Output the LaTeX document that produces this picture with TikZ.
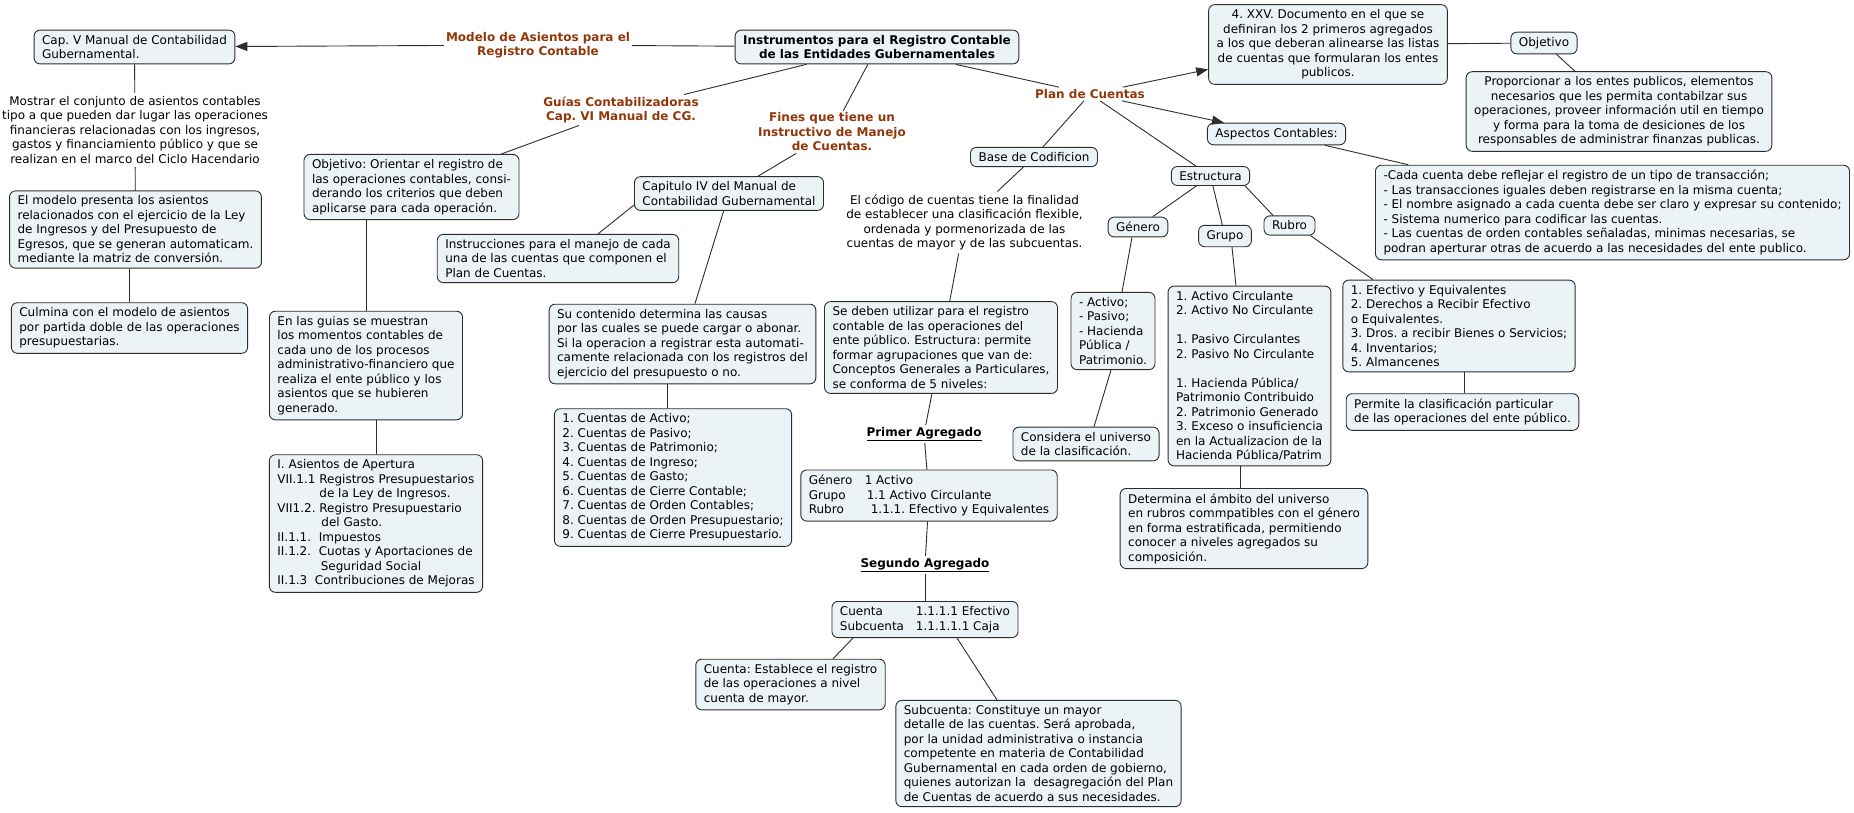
\documentclass[tikz,border=0pt]{standalone}
\usepackage{fontspec}
\setmainfont{DejaVu Sans}
\usetikzlibrary{arrows.meta}
\definecolor{boxfill}{RGB}{236,243,246}
\definecolor{linkbrown}{RGB}{145,55,10}
\definecolor{linegray}{RGB}{45,45,45}
\frenchspacing
\begin{document}
\begin{tikzpicture}[x=1pt,y=-1pt,
        every node/.style={font=\fontsize{12}{14.5}\selectfont, inner xsep=8pt, inner ysep=5pt},
        concept/.style={draw=linegray, fill=boxfill, rounded corners=6pt, align=left, line width=0.9pt},
        linkphrase/.style={text=linkbrown, font=\fontsize{12}{14.5}\selectfont\bfseries, align=center, inner sep=2pt},
        plaintext/.style={align=center, inner sep=3pt},
        conn/.style={draw=linegray, line width=0.9pt},
        arr/.style={conn, -{Triangle[length=12pt,width=9pt]}}
    ]
    \fill[white] (0,0) rectangle (1854,812);
    \useasboundingbox (0,0) rectangle (1854,812);

    % root and link phrases
    \node[concept, align=center, font=\fontsize{12}{14.5}\selectfont\bfseries] (root) at (877,47)
        {Instrumentos para el Registro Contable\\de las Entidades Gubernamentales};
    \node[linkphrase] (modelo) at (538,45) {Modelo de Asientos para el\\Registro Contable};
    \node[linkphrase] (guias) at (621,110) {Guías Contabilizadoras\\Cap. VI Manual de CG.};
    \node[linkphrase] (fines) at (832,132) {Fines que tiene un\\Instructivo de Manejo\\de Cuentas.};
    \node[linkphrase] (plan) at (1090,94) {Plan de Cuentas};

    % left branch
    \node[concept] (capv) at (134.5,47) {Cap. V Manual de Contabilidad\\Gubernamental.};
    \node[plaintext] (mostrar) at (135,130) {Mostrar el conjunto de asientos contables\\tipo a que pueden dar lugar las operaciones\\financieras relacionadas con los ingresos,\\gastos y financiamiento público y que se\\realizan en el marco del Ciclo Hacendario};
    \node[concept] (elmodelo) at (135.5,229.5) {El modelo presenta los asientos\\relacionados con el ejercicio de la Ley\\de Ingresos y del Presupuesto de\\Egresos, que se generan automaticam.\\mediante la matriz de conversión.};
    \node[concept] (culmina) at (129.5,328) {Culmina con el modelo de asientos\\por partida doble de las operaciones\\presupuestarias.};

    % guias
    \node[concept] (objetivoguia) at (411.5,187) {Objetivo: Orientar el registro de\\las operaciones contables, consi-\\derando los criterios que deben\\aplicarse para cada operación.};
    \node[concept] (enlasguias) at (366,365.5) {En las guias se muestran\\los momentos contables de\\cada uno de los procesos\\administrativo-financiero que\\realiza el ente público y los\\asientos que se hubieren\\generado.};
    \node[concept] (asientos) at (376,523.5) {I. Asientos de Apertura\\
        VII.1.1 Registros Presupuestarios\\
        \phantom{VII.1.1 }de la Ley de Ingresos.\\
        VII1.2. Registro Presupuestario\\
        \phantom{VII1.2. }\,del Gasto.\\
        II.1.1.\ \ Impuestos\\
        II.1.2.\ \ Cuotas y Aportaciones de\\
        \phantom{II.1.2.\ \ }\,Seguridad Social\\
        II.1.3\ \ Contribuciones de Mejoras};

    % instructivo
    \node[concept] (capitulo) at (729,193.5) {Capitulo IV del Manual de\\Contabilidad Gubernamental};
    \node[concept] (instrucciones) at (558,258.5) {Instrucciones para el manejo de cada\\una de las cuentas que componen el\\Plan de Cuentas.};
    \node[concept] (contenido) at (682.5,344) {Su contenido determina las causas\\por las cuales se puede cargar o abonar.\\Si la operacion a registrar esta automati-\\camente relacionada con los registros del\\ejercicio del presupuesto o no.};
    \node[concept] (listacuentas) at (673,477.5) {1. Cuentas de Activo;\\2. Cuentas de Pasivo;\\3. Cuentas de Patrimonio;\\4. Cuentas de Ingreso;\\5. Cuentas de Gasto;\\6. Cuentas de Cierre Contable;\\7. Cuentas de Orden Contables;\\8. Cuentas de Orden Presupuestario;\\9. Cuentas de Cierre Presupuestario.};

    % plan de cuentas: codificacion
    \node[concept] (base) at (1034,157) {Base de Codificion};
    \node[plaintext] (codigo) at (964.5,222.5) {El código de cuentas tiene la finalidad\\de establecer una clasificación flexible,\\ordenada y pormenorizada de las\\cuentas de mayor y de las subcuentas.};
    \node[concept] (sedeben) at (941,347.5) {Se deben utilizar para el registro\\contable de las operaciones del\\ente público. Estructura: permite\\formar agrupaciones que van de:\\Conceptos Generales a Particulares,\\se conforma de 5 niveles:};
    \node[inner sep=2pt] (primer) at (924,434) {\underline{\textbf{Primer Agregado}}};
    \node[concept] (niveles) at (929,495.5) {\makebox[56pt][l]{Género}1 Activo\\
        \makebox[58pt][l]{Grupo}1.1 Activo Circulante\\
        \makebox[62pt][l]{Rubro}1.1.1. Efectivo y Equivalentes};
    \node[inner sep=2pt] (segundo) at (925,565) {\underline{\textbf{Segundo Agregado}}};
    \node[concept] (cuentasub) at (925,619.5) {\makebox[76pt][l]{Cuenta}1.1.1.1 Efectivo\\
        \makebox[76pt][l]{Subcuenta}1.1.1.1.1 Caja};
    \node[concept] (cuentanota) at (790.5,684.5) {Cuenta: Establece el registro\\de las operaciones a nivel\\cuenta de mayor.};
    \node[concept] (subnota) at (1038.5,753.5) {Subcuenta: Constituye un mayor\\detalle de las cuentas. Será aprobada,\\por la unidad administrativa o instancia\\competente en materia de Contabilidad\\Gubernamental en cada orden de gobierno,\\quienes autorizan la\ \ desagregación del Plan\\de Cuentas de acuerdo a sus necesidades.};

    % plan de cuentas: documento y aspectos
    \node[concept, align=center] (documento) at (1328,44.5) {4. XXV. Documento en el que se\\definiran los 2 primeros agregados\\a los que deberan alinearse las listas\\de cuentas que formularan los entes\\publicos.};
    \node[concept] (objetivoplan) at (1544,43) {Objetivo};
    \node[concept, align=center] (proporcionar) at (1619,111.5) {Proporcionar a los entes publicos, elementos\\necesarios que les permita contabilzar sus\\operaciones, proveer información util en tiempo\\y forma para la toma de desiciones de los\\responsables de administrar finanzas publicas.};
    \node[concept] (aspectos) at (1276.5,134) {Aspectos Contables:};
    \node[concept] (reglas) at (1612.5,212.5) {-Cada cuenta debe reflejar el registro de un tipo de transacción;\\- Las transacciones iguales deben registrarse en la misma cuenta;\\- El nombre asignado a cada cuenta debe ser claro y expresar su contenido;\\- Sistema numerico para codificar las cuentas.\\- Las cuentas de orden contables señaladas, minimas necesarias, se\\podran aperturar otras de acuerdo a las necesidades del ente publico.};

    % plan de cuentas: estructura
    \node[concept] (estructura) at (1210.5,176) {Estructura};
    \node[concept] (genero) at (1138,227) {Género};
    \node[concept] (grupo) at (1225,236) {Grupo};
    \node[concept] (rubro) at (1289.5,225.5) {Rubro};
    \node[concept] (generolista) at (1113,331) {- Activo;\\- Pasivo;\\- Hacienda\\Pública /\\Patrimonio.};
    \node[concept] (considera) at (1086,444) {Considera el universo\\de la clasificación.};
    \node[concept] (grupolista) at (1249.5,376) {1. Activo Circulante\\2. Activo No Circulante\\[14.5pt]1. Pasivo Circulantes\\2. Pasivo No Circulante\\[14.5pt]1. Hacienda Pública/\\Patrimonio Contribuido\\2. Patrimonio Generado\\3. Exceso o insuficiencia\\en la Actualizacion de la\\Hacienda Pública/Patrim};
    \node[concept] (determina) at (1244,528.5) {Determina el ámbito del universo\\en rubros commpatibles con el género\\en forma estratificada, permitiendo\\conocer a niveles agregados su\\composición.};
    \node[concept] (rubrolista) at (1459,326) {1. Efectivo y Equivalentes\\2. Derechos a Recibir Efectivo\\o Equivalentes.\\3. Dros. a recibir Bienes o Servicios;\\4. Inventarios;\\5. Almancenes};
    \node[concept] (permite) at (1462.5,412) {Permite la clasificación particular\\de las operaciones del ente público.};

    % connectors
    \draw[conn] (root) -- (modelo);
    \draw[arr] (modelo) -- (capv);
    \draw[conn] (capv) -- (mostrar);
    \draw[conn] (mostrar) -- (elmodelo);
    \draw[conn] (culmina.north) -- (culmina.north |- elmodelo.south);
    \draw[conn] (root) -- (guias);
    \draw[conn] (guias) -- (objetivoguia);
    \draw[conn] (enlasguias.north) -- (enlasguias.north |- objetivoguia.south);
    \draw[conn] (asientos.north) -- (asientos.north |- enlasguias.south);
    \draw[conn] (root) -- (fines);
    \draw[conn] (fines) -- (capitulo);
    \draw[conn] ([yshift=-11.5pt]capitulo.west) -- ([xshift=40pt]instrucciones.north);
    \draw[conn] (capitulo) -- (contenido);
    \draw[conn] ([xshift=-6pt]listacuentas.north) -- ([xshift=-6pt]listacuentas.north |- contenido.south);
    \draw[conn] (root) -- (plan);
    \draw[arr] (plan) -- (documento);
    \draw[arr] (plan) -- (aspectos);
    \draw[conn] (plan) -- (base);
    \draw[conn] (plan) -- (estructura);
    \draw[conn] (base) -- (codigo);
    \draw[conn] (codigo) -- (sedeben);
    \draw[conn] (sedeben) -- (primer);
    \draw[conn] (primer) -- (niveles);
    \draw[conn] (niveles) -- (segundo);
    \draw[conn] (segundo) -- (cuentasub);
    \draw[conn] ([xshift=-72pt]cuentasub.south) -- ([xshift=42.5pt]cuentanota.north);
    \draw[conn] ([xshift=32pt]cuentasub.south) -- ([xshift=-41.5pt]subnota.north);
    \draw[conn] (documento) -- (objetivoplan);
    \draw[conn] (objetivoplan) -- (proporcionar);
    \draw[conn] (aspectos) -- (reglas);
    \draw[conn] (estructura) -- (genero);
    \draw[conn] (estructura) -- (grupo);
    \draw[conn] ([xshift=-5pt]estructura.south east) -- ([xshift=-16.5pt]rubro.north);
    \draw[conn] ([xshift=-6pt]genero.south) -- ([xshift=9pt]generolista.north);
    \draw[conn] ([xshift=-2pt]generolista.south) -- ([xshift=8pt]considera.north);
    \draw[conn] ([xshift=7pt]grupo.south) -- ([xshift=-13.5pt]grupolista.north);
    \draw[conn] ([xshift=-9.5pt]grupolista.south) -- ([xshift=-4pt]determina.north);
    \draw[conn] ([xshift=-5pt]rubro.south east) -- ([xshift=-86pt]rubrolista.north);
    \draw[conn] ([xshift=5pt]rubrolista.south) -- ([xshift=1.5pt]permite.north);
\end{tikzpicture}
\end{document}
